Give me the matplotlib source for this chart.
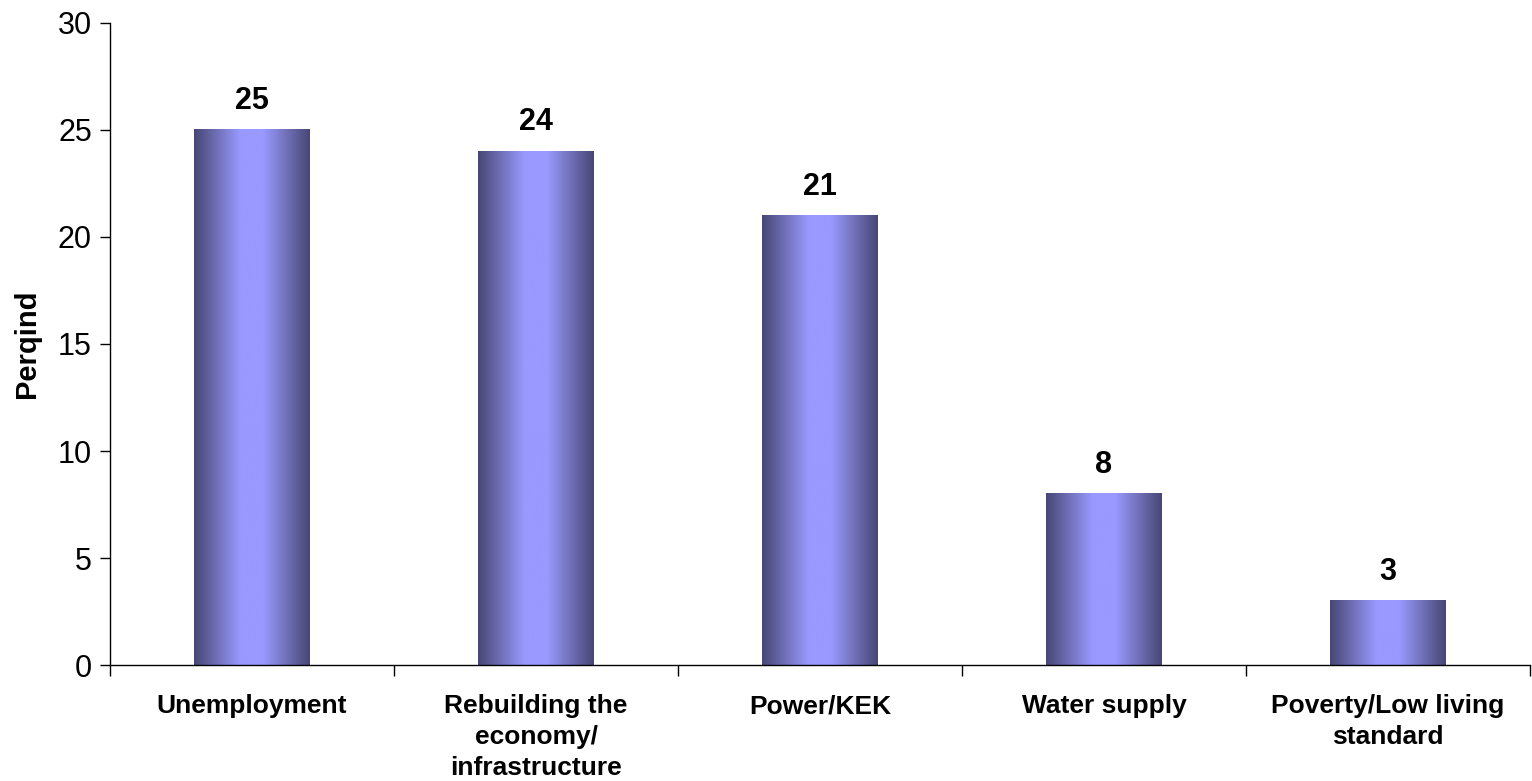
#!/usr/bin/env python3
"""Bar chart of most important problems (Perqind) with gradient-filled bars."""
import numpy as np
import matplotlib
matplotlib.use("Agg")
import matplotlib.pyplot as plt
from matplotlib.colors import LinearSegmentedColormap

CATEGORIES = [
    "Unemployment",
    "Rebuilding the\neconomy/\ninfrastructure",
    "Power/KEK",
    "Water supply",
    "Poverty/Low living\nstandard",
]
VALUES = [25, 24, 21, 8, 3]
Y_TICKS = [0, 5, 10, 15, 20, 25, 30]

plt.rcParams["font.family"] = ["Liberation Sans", "DejaVu Sans"]

fig = plt.figure(figsize=(15.32, 7.81), dpi=100)
ax = fig.add_axes([0.0718, 0.1485, 0.9269, 0.8221])

cmap = LinearSegmentedColormap.from_list(
    "bar", ["#474776", "#7070b8", "#9999ff", "#9999ff", "#7070b8", "#474776"]
)
grad = np.linspace(0, 1, 256).reshape(1, -1)

x = np.arange(len(CATEGORIES))
width = 0.405
bars = ax.bar(x, VALUES, width=width, color="none", edgecolor="none", zorder=2)
for rect, val in zip(bars, VALUES):
    x0 = rect.get_x()
    x1 = x0 + rect.get_width()
    ax.imshow(grad, cmap=cmap, extent=[x0, x1, 0, val], aspect="auto",
              interpolation="bicubic", zorder=2)
    ax.text(rect.get_x() + rect.get_width() / 2, val + 0.65, f"{val}",
            ha="center", va="bottom", fontsize=22, fontweight="bold")

ax.set_xlim(-0.5, len(CATEGORIES) - 0.5)
ax.set_ylim(0, 30)
ax.set_yticks(Y_TICKS)
ax.tick_params(axis="y", labelsize=22, length=7, width=1, direction="out", pad=6)

ax.set_xticks(np.arange(len(CATEGORIES) + 1) - 0.5)
ax.set_xticklabels([])
ax.set_xticks(x, minor=True)
ax.set_xticklabels(CATEGORIES, minor=True, fontsize=19, fontweight="bold",
                   linespacing=1.37, va="top")
ax.tick_params(axis="x", which="major", length=8, width=1, direction="out")
ax.tick_params(axis="x", which="minor", length=0, pad=21)

ax.set_ylabel("Perqind", fontsize=21, fontweight="bold", labelpad=12)

for side in ("top", "right"):
    ax.spines[side].set_visible(False)
for side in ("left", "bottom"):
    ax.spines[side].set_linewidth(1)

fig.savefig("out.png", dpi=100)
